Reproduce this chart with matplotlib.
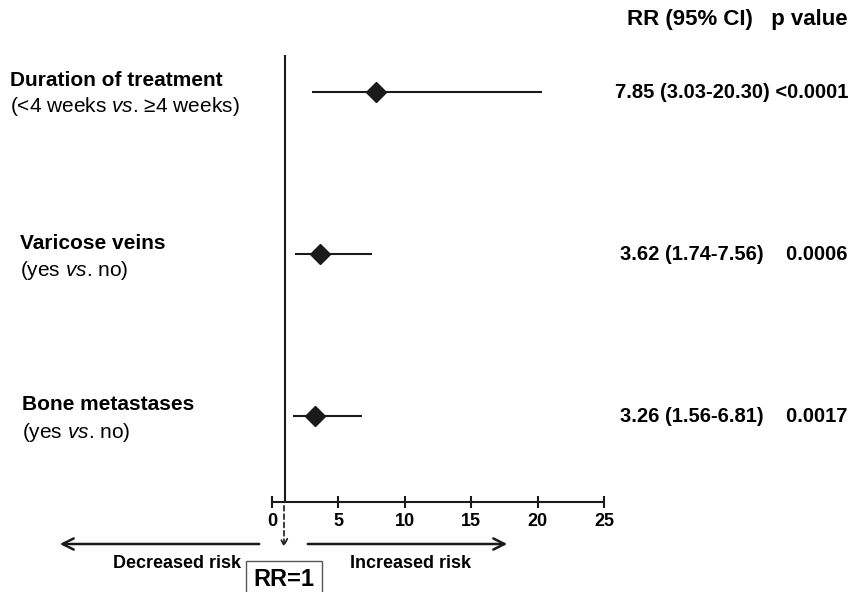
import matplotlib.pyplot as plt
from matplotlib.patches import FancyArrowPatch

plt.rcParams['font.family'] = ['Liberation Sans', 'DejaVu Sans']
plt.rcParams['mathtext.fontset'] = 'custom'
plt.rcParams['mathtext.rm'] = 'Liberation Sans'
plt.rcParams['mathtext.it'] = 'Liberation Sans:italic'
plt.rcParams['mathtext.bf'] = 'Liberation Sans:bold'

# data
labels = ["Duration of treatment", "Varicose veins", "Bone metastases"]
sublabels = ["(<4 weeks $\\mathit{vs}$. \u22654 weeks)", "(yes $\\mathit{vs}$. no)", "(yes $\\mathit{vs}$. no)"]
rr = [7.85, 3.62, 3.26]
lo = [3.03, 1.74, 1.56]
hi = [20.30, 7.56, 6.81]
ci_text = ["7.85 (3.03-20.30) <0.0001", "3.62 (1.74-7.56)    0.0006", "3.26 (1.56-6.81)    0.0017"]
xticks = [0, 5, 10, 15, 20, 25]
rows = [3, 2, 1]

fig = plt.figure(figsize=(8.54, 5.92), dpi=100)
ax = fig.add_axes([272 / 854, 90 / 592, 332 / 854, 447 / 592])
ax.set_xlim(0, 25)
ybot = 1 - 86 / 162
ax.set_ylim(ybot, ybot + 447 / 162)

for y, r, l, h in zip(rows, rr, lo, hi):
    ax.plot([l, h], [y, y], color='#1a1a1a', lw=1.5, solid_capstyle='butt')
    ax.plot(r, y, marker='D', ms=10.5, color='#1a1a1a')

ax.axvline(1, color='#1a1a1a', lw=1.5)

for s in ['top', 'right', 'left']:
    ax.spines[s].set_visible(False)
ax.spines['bottom'].set_linewidth(1.5)
ax.spines['bottom'].set_color('#1a1a1a')
ax.set_yticks([])
ax.set_xticks(xticks)
ax.tick_params(axis='x', direction='inout', length=8, width=1.5, color='#1a1a1a', pad=4)
for t in ax.get_xticklabels():
    t.set_fontweight('bold')
    t.set_fontsize(13)

# text on figure, pixel coordinates
def fx(px):
    return px / 854

def fy(py):
    return 1 - py / 592

lab_pos = [(10, 80), (20, 243), (22, 405)]
for (px, py), lab, sub in zip(lab_pos, labels, sublabels):
    fig.text(fx(px), fy(py), lab, fontsize=15, fontweight='bold', va='center', ha='left')
    fig.text(fx(px), fy(py + 27), sub, fontsize=15, va='center', ha='left')

for y, txt in zip([92, 254, 416], ci_text):
    fig.text(fx(848), fy(y), txt, fontsize=14.5, fontweight='bold', va='center', ha='right')

fig.text(fx(848), fy(20), "RR (95% CI)   p value", fontsize=16, fontweight='bold',
         va='center', ha='right')

# arrows under the axis
arr_l = FancyArrowPatch((fx(262), fy(544)), (fx(57), fy(544)), transform=fig.transFigure,
                        arrowstyle='->', mutation_scale=20, lw=1.8, color='#1a1a1a')
arr_r = FancyArrowPatch((fx(305), fy(544)), (fx(510), fy(544)), transform=fig.transFigure,
                        arrowstyle='->', mutation_scale=20, lw=1.8, color='#1a1a1a')
arr_d = FancyArrowPatch((fx(284), fy(503)), (fx(284), fy(550)), transform=fig.transFigure,
                        arrowstyle='->', mutation_scale=12, lw=1.2, color='#1a1a1a',
                        linestyle=(0, (3, 2)))
for a in [arr_l, arr_r, arr_d]:
    fig.add_artist(a)

fig.text(fx(177), fy(563), "Decreased risk", fontsize=13, fontweight='bold', ha='center', va='center')
fig.text(fx(411), fy(563), "Increased risk", fontsize=13, fontweight='bold', ha='center', va='center')
fig.text(fx(284), fy(580), "RR=1", fontsize=17, fontweight='bold', ha='center', va='center',
         bbox=dict(boxstyle='square,pad=0.3', fc='white', ec='#555555', lw=1))

fig.savefig('out.png', dpi=100)
